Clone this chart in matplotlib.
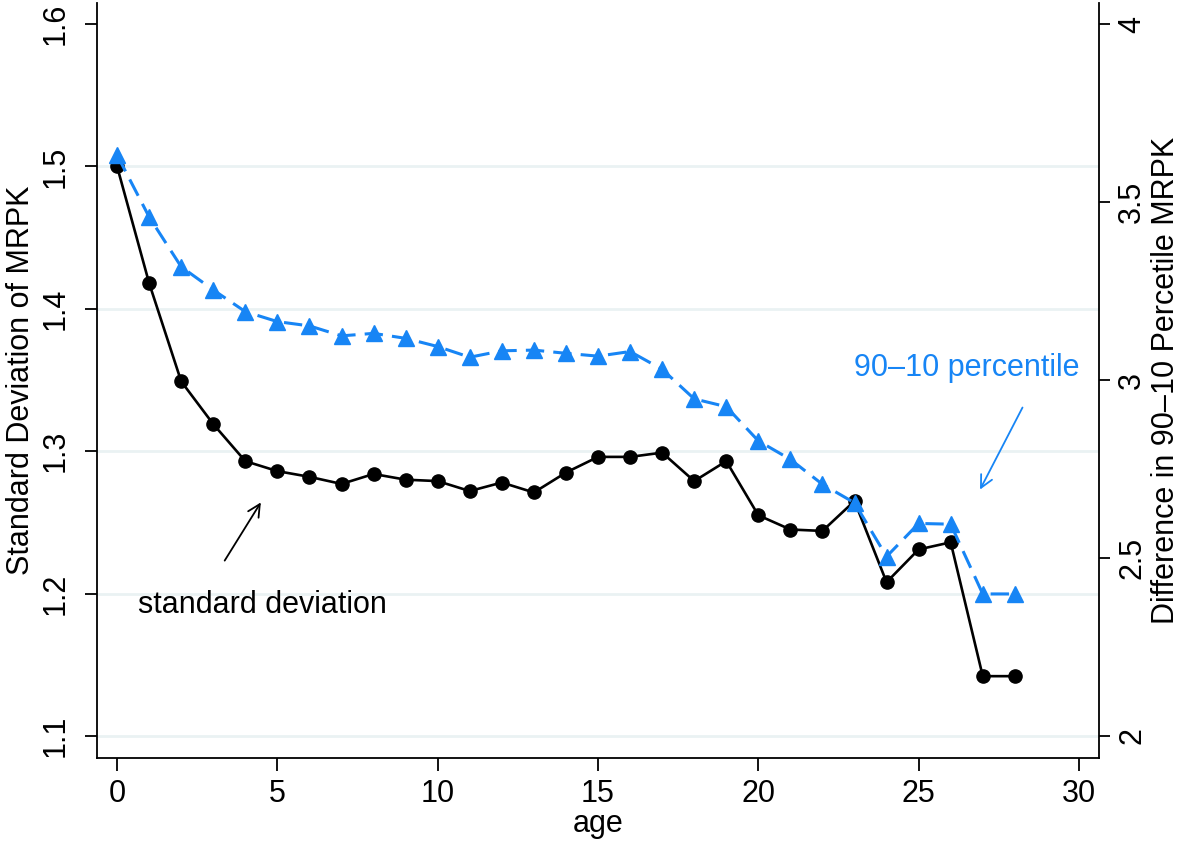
import matplotlib
matplotlib.use("Agg")
import matplotlib.pyplot as plt

plt.rcParams["font.family"] = ["Liberation Sans", "DejaVu Sans"]

age = list(range(29))
sd_mrpk = [1.500, 1.418, 1.349, 1.319, 1.293, 1.286, 1.282, 1.277, 1.284, 1.280,
           1.279, 1.272, 1.278, 1.271, 1.285, 1.296, 1.296, 1.299, 1.279, 1.293,
           1.255, 1.245, 1.244, 1.265, 1.208, 1.231, 1.236, 1.142, 1.142]
p90_10 = [3.632, 3.458, 3.318, 3.253, 3.192, 3.164, 3.152, 3.124, 3.131, 3.117,
          3.094, 3.064, 3.082, 3.084, 3.075, 3.067, 3.080, 3.030, 2.947, 2.925,
          2.829, 2.777, 2.707, 2.655, 2.504, 2.597, 2.595, 2.399, 2.399]

left_ticks = [1.1, 1.2, 1.3, 1.4, 1.5, 1.6]
right_ticks = [2, 2.5, 3, 3.5, 4]
x_ticks = [0, 5, 10, 15, 20, 25, 30]

BLUE = "#1785F5"
FS = 22

fig = plt.figure(figsize=(11.85, 8.42), dpi=100)
ax = fig.add_axes([0.0819, 0.0998, 0.9274 - 0.0819, 0.9964 - 0.0998])
ax2 = ax.twinx()

# left axis: standard deviation
ax.set_xlim(-0.625, 30.625)
ax.set_ylim(1.08455, 1.61475)
for v in left_ticks[:-1]:
    ax.axhline(v, color="#EAF2F3", lw=2, zorder=0)
ax.plot(age, sd_mrpk, "-o", color="black", lw=1.9, ms=9.5, zorder=3)

# right axis: 90-10 percentile gap, same vertical scale
ax2.set_ylim(1.9382, 4.059)
ax2.plot(age, p90_10, "--^", color=BLUE, lw=2.2, ms=11, dashes=(6, 3), zorder=3)

for a in (ax, ax2):
    a.spines["top"].set_visible(False)
ax.spines["right"].set_visible(False)
ax2.spines["left"].set_visible(False)
ax2.spines["bottom"].set_visible(False)
for s in ("left", "bottom"):
    ax.spines[s].set_linewidth(1.3)
ax2.spines["right"].set_linewidth(1.3)

ax.set_xticks(x_ticks)
ax.set_xticklabels([str(t) for t in x_ticks], fontsize=FS)
ax.set_yticks(left_ticks)
ax.set_yticklabels(["%.1f" % t for t in left_ticks], fontsize=FS,
                   rotation=90, va="center")
ax2.set_yticks(right_ticks)
ax2.set_yticklabels(["%g" % t for t in right_ticks], fontsize=FS,
                    rotation=90, va="center")
ax.tick_params(axis="x", length=9, width=1.3, pad=6)
ax.tick_params(axis="y", length=9, width=1.3, pad=10)
ax2.tick_params(axis="y", length=8, width=1.3, pad=5)

ax.set_xlabel("age", fontsize=FS, labelpad=0)
ax.set_ylabel("Standard Deviation of MRPK", fontsize=FS, labelpad=3)
ax2.set_ylabel("Difference in 90\u201310 Percetile MRPK", fontsize=FS, labelpad=3)

ax.annotate("", xy=(4.53, 1.2657), xytext=(3.31, 1.2215),
            arrowprops=dict(arrowstyle="->", color="black", lw=1.3,
                            mutation_scale=22))
ax.text(0.66, 1.192, "standard deviation", fontsize=FS, va="center", ha="left")

ax.annotate("", xy=(26.875, 1.2713), xytext=(28.28, 1.3324),
            arrowprops=dict(arrowstyle="->", color=BLUE, lw=1.3,
                            mutation_scale=22))
ax.text(22.97, 1.3584, "90\u201310 percentile", fontsize=FS, va="center",
        ha="left", color=BLUE)

fig.savefig("out.png", dpi=100)
